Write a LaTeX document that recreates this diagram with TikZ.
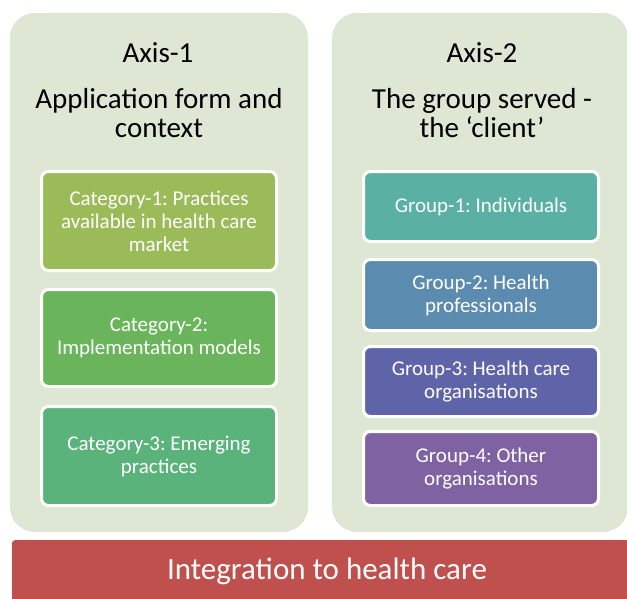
\documentclass[tikz,border=0pt]{standalone}
\usepackage{fontspec}
\setmainfont{Carlito}
\usepackage{tikz}
\frenchspacing

\definecolor{panelbg}{HTML}{DEE6D4}
\definecolor{catone}{HTML}{9BBB59}
\definecolor{cattwo}{HTML}{6AB55B}
\definecolor{catthree}{HTML}{5BB37C}
\definecolor{grpone}{HTML}{5AB0A3}
\definecolor{grptwo}{HTML}{5B8BAF}
\definecolor{grpthree}{HTML}{5E64A7}
\definecolor{grpfour}{HTML}{7F62A1}
\definecolor{barred}{HTML}{C0504D}

\begin{document}
\begin{tikzpicture}[x=1pt, y=-1pt]
 \tikzstyle{axispanel}=[fill=panelbg, rounded corners=25pt, minimum width=296pt, minimum height=519pt, inner sep=0pt]
 \tikzstyle{heading}=[text=black, align=center, inner sep=0pt, font=\fontsize{29}{29}\selectfont]
 \tikzstyle{itembox}=[draw=white, line width=3pt, rounded corners=7pt, text=white, align=center, minimum width=235pt, inner sep=0pt, font=\fontsize{21}{23}\selectfont]
 \tikzstyle{intbar}=[fill=barred, rounded corners=3pt, text=white, minimum width=630pt, inner xsep=0pt, inner ysep=0pt, font=\fontsize{31}{31}\selectfont]
 %
 \useasboundingbox (0,0) rectangle (627,598);
 \clip (0,0) rectangle (627,598);
 %
 \node[axispanel, minimum width=298pt] (Ax1) at (159, 272.5) {};
 \node[axispanel] (Ax2) at (480, 272.5) {};
 %
 \node[heading, anchor=base] (T1) at (158, 62) {Axis-1};
 \node[heading] (S1) at (159, 113.5) {Application form and\\context};
 \node[heading, anchor=base] (T2) at (482, 62) {Axis-2};
 \node[heading] (S2) at (482, 113) {The group served -\\the ‘client’};
 %
 \node[itembox, fill=catone, minimum height=99pt] (C1) at (159, 221) {Category-1: Practices\\available in health care\\market};
 \node[itembox, fill=cattwo, minimum height=97pt] (C2) at (159, 338) {Category-2:\\Implementation models};
 \node[itembox, fill=catthree, minimum height=99pt] (C3) at (159, 456) {Category-3: Emerging\\practices};
 %
 \node[itembox, fill=grpone, minimum height=70pt] (G1) at (481, 206.5) {Group-1: Individuals};
 \node[itembox, fill=grptwo, minimum height=71pt] (G2) at (481, 295) {Group-2: Health\\professionals};
 \node[itembox, fill=grpthree, minimum height=70pt] (G3) at (481, 381.5) {Group-3: Health care\\organisations};
 \node[itembox, fill=grpfour, minimum height=74pt] (G4) at (481, 468.5) {Group-4: Other\\organisations};
 %%
 \node[intbar, anchor=north, text height=39pt, text depth=31pt] (Int) at (327, 540) {Integration to health care};
\end{tikzpicture}
\end{document}
